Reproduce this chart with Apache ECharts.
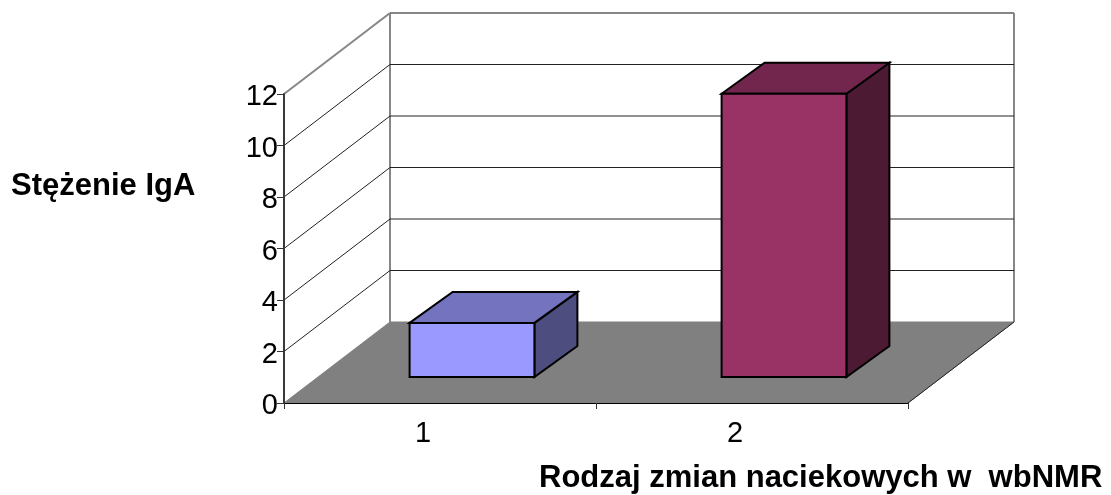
<!DOCTYPE html>
<html>
<head>
<meta charset="utf-8">
<style>
  html, body { margin: 0; padding: 0; background: #fff; }
  #chart { width: 1111px; height: 495px; }
</style>
<script src="https://cdn.jsdelivr.net/npm/echarts@6/dist/echarts.min.js"></script>
</head>
<body>
<div id="chart"></div>
<script>
const categories = ['1', '2'];
const barValues = [2.1, 11];
const yTicks = [2, 4, 6, 8, 10, 12];
const faceColors = ['#9999FF', '#993366'];
const topColors = ['#7373BF', '#73264D'];
const sideColors = ['#4D4D80', '#4D1A33'];

const FONT = '"Liberation Sans", Arial, sans-serif';
// depth of the fake 3D box, and where the bars stand inside it
const WALL_DX = 106;
const WALL_DY = -81;
const BAR_DX = 32;
const BAR_DY = -26;
const BAR_DEPTH_X = 43;
const BAR_DEPTH_Y = -31;
const GRAY = '#868686';

const line = (a, b, color, width) => ({
  type: 'line',
  shape: { x1: a[0], y1: a[1], x2: b[0], y2: b[1] },
  style: { stroke: color, lineWidth: width }
});

const poly = (points, fill, stroke, width) => ({
  type: 'polygon',
  shape: { points },
  style: { fill, stroke, lineWidth: width, lineJoin: 'miter' }
});

const renderFloor = (params, api) => {
  const cs = params.coordSys;
  const right = cs.x + cs.width;
  const bottom = cs.y + cs.height;
  return {
    type: 'group',
    children: [
      poly([
        [cs.x, bottom],
        [cs.x + WALL_DX, bottom + WALL_DY],
        [right + WALL_DX, bottom + WALL_DY],
        [right, bottom]
      ], '#808080', '#808080', 1),
      line([cs.x + WALL_DX, cs.y + WALL_DY], [cs.x + WALL_DX, bottom + WALL_DY], GRAY, 2),
      line([right + WALL_DX, cs.y + WALL_DY], [right + WALL_DX, bottom + WALL_DY], GRAY, 2),
      line([right, bottom], [right + WALL_DX, bottom + WALL_DY], '#222', 1)
    ]
  };
};

const renderGridLine = (params, api) => {
  const cs = params.coordSys;
  const value = api.value(0);
  const y = api.coord([0, value])[1];
  const isTop = value === yTicks[yTicks.length - 1];
  const color = isTop ? GRAY : '#222';
  const width = isTop ? 2 : 1;
  const back = [cs.x + WALL_DX, y + WALL_DY];
  return {
    type: 'group',
    children: [
      line([cs.x, y], back, color, width),
      line(back, [cs.x + cs.width + WALL_DX, y + WALL_DY], color, width)
    ]
  };
};

const renderBar = (params, api) => {
  const i = api.value(0);
  const base = api.coord([i, 0]);
  const top = api.coord([i, api.value(1)]);
  const w = api.size([1, 0])[0] * 0.4;
  const x0 = base[0] - w / 2 + BAR_DX;
  const x1 = x0 + w;
  const y0 = base[1] + BAR_DY;
  const y1 = top[1] + BAR_DY;
  const dx = BAR_DEPTH_X;
  const dy = BAR_DEPTH_Y;
  return {
    type: 'group',
    children: [
      poly([[x1, y1], [x1 + dx, y1 + dy], [x1 + dx, y0 + dy], [x1, y0]], sideColors[i], '#000', 2),
      poly([[x0, y1], [x0 + dx, y1 + dy], [x1 + dx, y1 + dy], [x1, y1]], topColors[i], '#000', 2),
      poly([[x0, y1], [x1, y1], [x1, y0], [x0, y0]], faceColors[i], '#000', 2)
    ]
  };
};

const chart = echarts.init(document.getElementById('chart'), null, { renderer: 'canvas' });

chart.setOption({
  animation: false,
  backgroundColor: '#fff',
  title: [
    {
      text: 'Stężenie IgA',
      left: 11,
      top: 171,
      padding: 0,
      textStyle: { fontFamily: FONT, fontSize: 31, fontWeight: 'bold', color: '#000' }
    },
    {
      text: 'Rodzaj zmian naciekowych w  wbNMR',
      left: 539,
      top: 463,
      padding: 0,
      textStyle: { fontFamily: FONT, fontSize: 31, fontWeight: 'bold', color: '#000' }
    }
  ],
  grid: { left: 284, top: 94, width: 624, height: 309 },
  xAxis: {
    type: 'category',
    data: categories,
    z: 5,
    axisLine: { show: true, lineStyle: { color: '#000', width: 1 } },
    axisTick: { show: true, length: 6, lineStyle: { color: '#333', width: 1 } },
    axisLabel: {
      fontFamily: FONT,
      fontSize: 29,
      color: '#000',
      margin: 16,
      padding: [0, 34, 0, 0]
    }
  },
  yAxis: {
    type: 'value',
    min: 0,
    max: 12,
    interval: 2,
    z: 5,
    axisLine: { show: true, lineStyle: { color: '#383838', width: 2 } },
    axisTick: { show: true, length: 7, lineStyle: { color: '#333', width: 1 } },
    splitLine: { show: false },
    axisLabel: {
      fontFamily: FONT,
      fontSize: 29,
      color: '#000',
      margin: 6,
      verticalAlign: 'top',
      lineHeight: 6
    }
  },
  series: [
    {
      type: 'custom',
      silent: true,
      clip: false,
      z: 1,
      renderItem: renderFloor,
      data: [[0, 0]]
    },
    {
      type: 'custom',
      silent: true,
      clip: false,
      z: 2,
      renderItem: renderGridLine,
      encode: { y: 0 },
      data: yTicks.map(v => [v])
    },
    {
      type: 'custom',
      silent: true,
      clip: false,
      z: 3,
      renderItem: renderBar,
      encode: { x: 0, y: 1 },
      data: barValues.map((v, i) => [i, v])
    }
  ]
});
</script>
</body>
</html>
